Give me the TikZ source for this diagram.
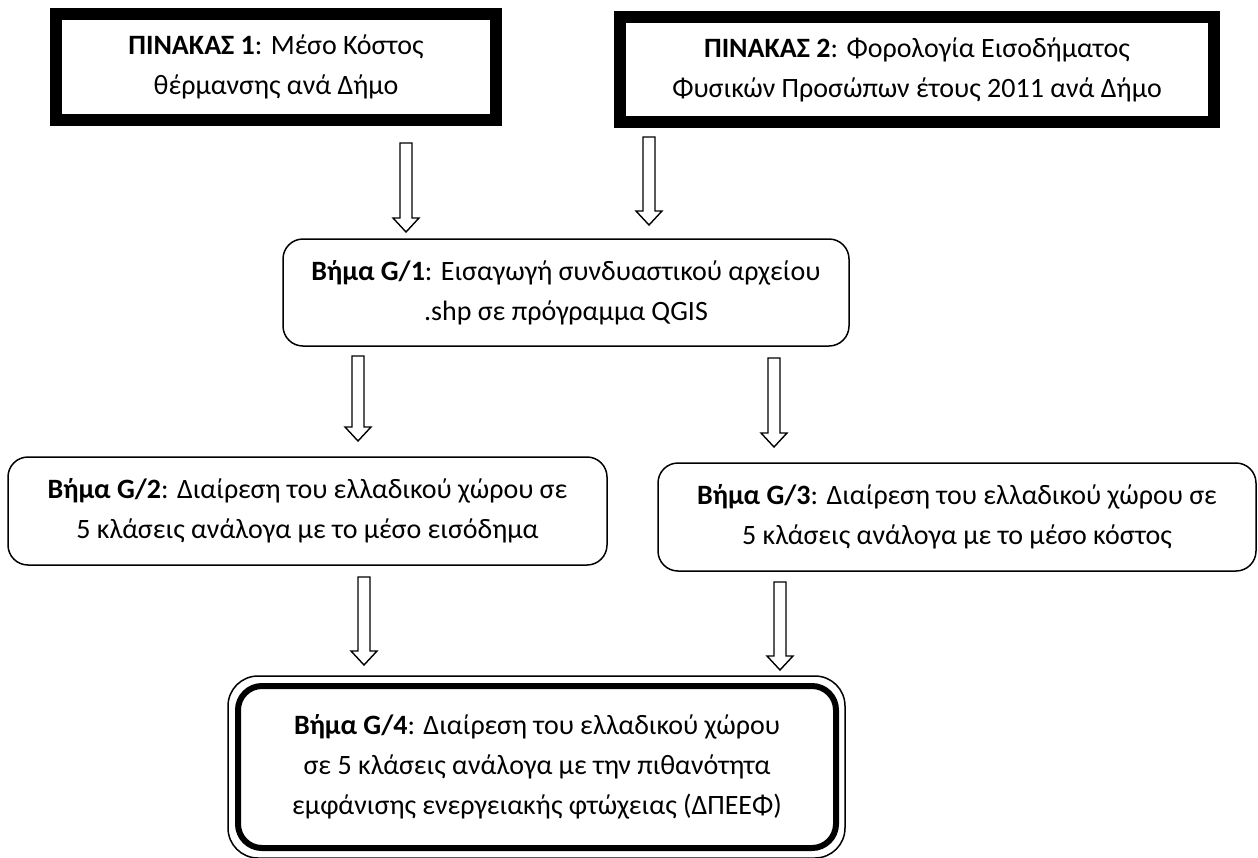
\documentclass[tikz,border=0pt]{standalone}
\usepackage{fontspec}
\setmainfont{Carlito}
\usetikzlibrary{calc}
\newcommand\harrow[2]{%
  \draw[harrowline] let \p1=(#1), \p2=(#2) in
    (\x1-6pt,\y1) -- (\x1+6pt,\y1) -- (\x1+6pt,\y2+14pt) -- (\x1+13pt,\y2+14pt)
    -- (\x1,\y2) -- (\x1-13pt,\y2+14pt) -- (\x1-6pt,\y2+14pt) -- cycle;}
\begin{document}
\begin{tikzpicture}[x=1pt,y=-1pt,
  every node/.style={font=\fontsize{28}{40}\selectfont, align=center, inner sep=0pt},
  tbl/.style={draw, line width=12pt, rectangle},
  stepbox/.style={draw, line width=1.5pt, rounded corners=20pt},
  finalbox/.style={draw, line width=6pt, rounded corners=24pt},
  harrowline/.style={draw, line width=1.4pt, fill=white, line join=miter}]
\useasboundingbox (0,0) rectangle (1258,857);

\node[tbl, minimum width=440pt, minimum height=106pt] (p1) at (276,67)
  {\textbf{ΠΙΝΑΚΑΣ 1}: Μέσο Κόστος\\θέρμανσης ανά Δήμο};
\node[tbl, minimum width=594pt, minimum height=105pt] (p2) at (917,69.5)
  {\textbf{ΠΙΝΑΚΑΣ 2}: Φορολογία Εισοδήματος\\Φυσικών Προσώπων έτους 2011 ανά Δήμο};
\node[stepbox, minimum width=566pt, minimum height=107pt] (g1) at (566,292.5)
  {\textbf{Βήμα G/1}: Εισαγωγή συνδυαστικού αρχείου\\.shp σε πρόγραμμα QGIS};
\node[stepbox, minimum width=599pt, minimum height=108pt] (g2) at (307.5,511)
  {\textbf{Βήμα G/2}: Διαίρεση του ελλαδικού χώρου σε\\5 κλάσεις ανάλογα με το μέσο εισόδημα};
\node[stepbox, minimum width=598pt, minimum height=108pt] (g3) at (957,517)
  {\textbf{Βήμα G/3}: Διαίρεση του ελλαδικού χώρου σε\\5 κλάσεις ανάλογα με το μέσο κόστος};
\node[finalbox, minimum width=598pt, minimum height=162pt] (g4) at (537,767)
  {\textbf{Βήμα G/4}: Διαίρεση του ελλαδικού χώρου\\σε 5 κλάσεις ανάλογα με την πιθανότητα\\εμφάνισης ενεργειακής φτώχειας (ΔΠΕΕΦ)};
\draw[line width=1.5pt, rounded corners=30pt]
  ($(g4.north west)+(-7,-7)$) rectangle ($(g4.south east)+(6,7)$);

\coordinate (a1s) at (406,143); \coordinate (a1e) at (406,232);
\coordinate (a2s) at (649,137); \coordinate (a2e) at (649,225);
\coordinate (a3s) at (358,356); \coordinate (a3e) at (358,441);
\coordinate (a4s) at (774,358); \coordinate (a4e) at (774,447);
\coordinate (a5s) at (364,577); \coordinate (a5e) at (364,665);
\coordinate (a6s) at (780,582); \coordinate (a6e) at (780,670);
\harrow{a1s}{a1e}
\harrow{a2s}{a2e}
\harrow{a3s}{a3e}
\harrow{a4s}{a4e}
\harrow{a5s}{a5e}
\harrow{a6s}{a6e}
\end{tikzpicture}
\end{document}
